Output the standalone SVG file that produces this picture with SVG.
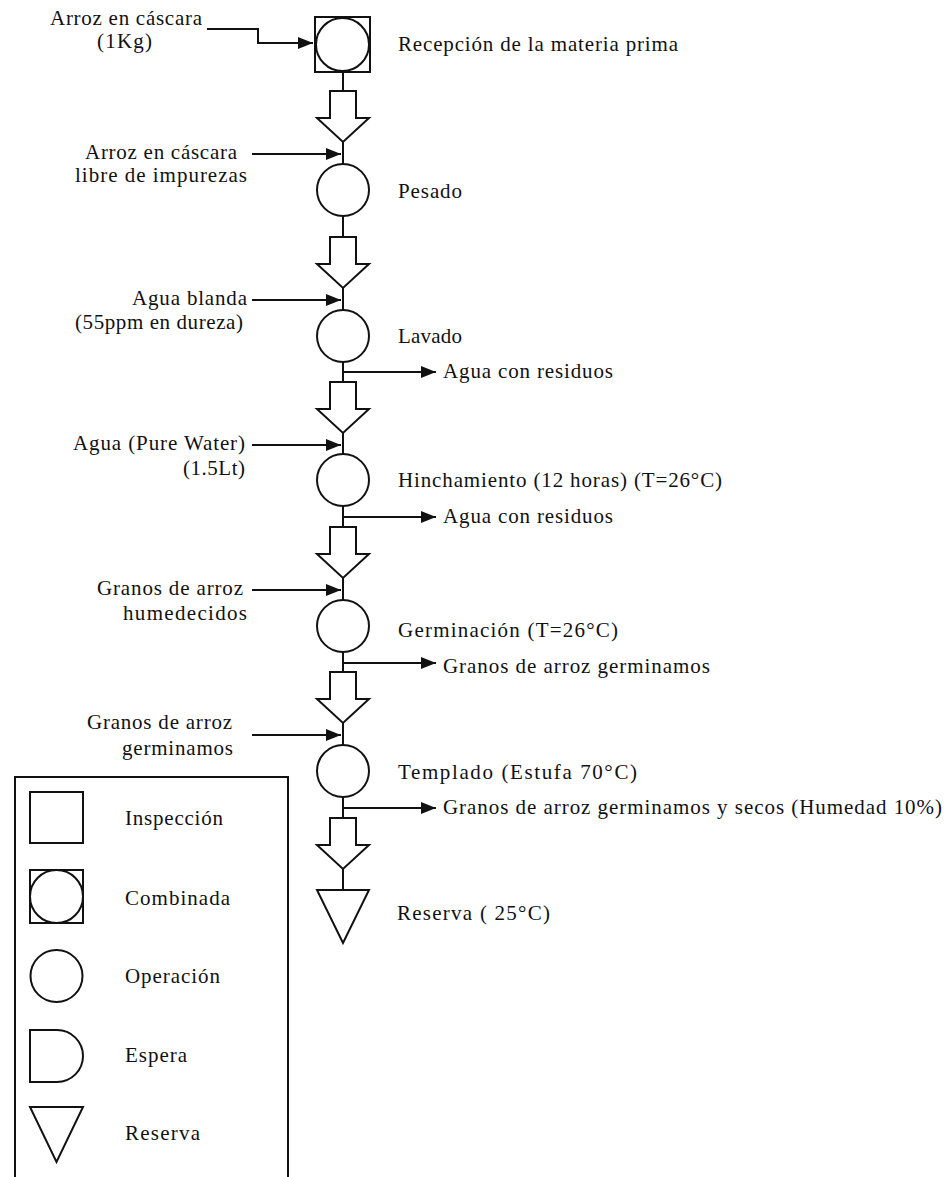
<svg xmlns="http://www.w3.org/2000/svg" width="950" height="1177" viewBox="0 0 950 1177">
<style>
.s{fill:none;stroke:#111;stroke-width:2}
.b{fill:#fff;stroke:#111;stroke-width:2}
.c{fill:none;stroke:#111;stroke-width:2}
text{font-family:"Times New Roman",Times,"Liberation Serif",Tinos,"Nimbus Roman","Noto Serif","DejaVu Serif",serif;font-size:21px;fill:#111}
</style>
<defs>
<marker id="ah" markerUnits="userSpaceOnUse" markerWidth="16" markerHeight="12" refX="15" refY="6" orient="auto">
<path d="M0,0 L15,6 L0,12 Z" fill="#111"/>
</marker>
<polygon id="blk" points="-13,0 13,0 13,27 26,27 0,51 -26,27 -13,27"/>
</defs>
<rect width="950" height="1177" fill="#fff"/>

<g id="connectors">
<polyline class="c" points="207,29 258,29 258,43 313,43" marker-end="url(#ah)"/>
<path class="c" d="M343,72V91 M343,142V164 M343,216V237 M343,288V310 M343,362V382 M343,433V454 M343,506V527 M343,578V600 M343,652V672 M343,723V745 M343,797V818 M343,869V890"/>
<use href="#blk" class="b" x="343" y="91"/>
<use href="#blk" class="b" x="343" y="237"/>
<use href="#blk" class="b" x="343" y="382"/>
<use href="#blk" class="b" x="343" y="527"/>
<use href="#blk" class="b" x="343" y="672"/>
<use href="#blk" class="b" x="343" y="818"/>
<line class="c" x1="252" y1="154" x2="341" y2="154" marker-end="url(#ah)"/>
<line class="c" x1="252" y1="300" x2="341" y2="300" marker-end="url(#ah)"/>
<line class="c" x1="252" y1="445" x2="341" y2="445" marker-end="url(#ah)"/>
<line class="c" x1="252" y1="590" x2="341" y2="590" marker-end="url(#ah)"/>
<line class="c" x1="252" y1="735" x2="341" y2="735" marker-end="url(#ah)"/>
<line class="c" x1="343" y1="372" x2="436" y2="372" marker-end="url(#ah)"/>
<line class="c" x1="343" y1="517" x2="436" y2="517" marker-end="url(#ah)"/>
<line class="c" x1="343" y1="663" x2="436" y2="663" marker-end="url(#ah)"/>
<line class="c" x1="343" y1="808" x2="436" y2="808" marker-end="url(#ah)"/>
</g>

<g id="inputs">
<text x="50" y="25" textLength="152">Arroz en cáscara</text>
<text x="97" y="48" textLength="55">(1Kg)</text>
<text x="85" y="159" textLength="152">Arroz en cáscara</text>
<text x="75" y="182" textLength="172">libre de impurezas</text>
<text x="132" y="305" textLength="115">Agua blanda</text>
<text x="75" y="329" textLength="168">(55ppm en dureza)</text>
<text x="73" y="450" textLength="172">Agua (Pure Water)</text>
<text x="183" y="475" textLength="62">(1.5Lt)</text>
<text x="97" y="595" textLength="146">Granos de arroz</text>
<text x="123" y="620" textLength="124">humedecidos</text>
<text x="87" y="729" textLength="145">Granos de arroz</text>
<text x="122" y="755" textLength="111">germinamos</text>
</g>

<g id="outputs">
<text x="443" y="378" textLength="170">Agua con residuos</text>
<text x="443" y="523" textLength="170">Agua con residuos</text>
<text x="443" y="673" textLength="267">Granos de arroz germinamos</text>
<text x="443" y="814" textLength="499">Granos de arroz germinamos y secos (Humedad 10%)</text>
</g>

<g id="n1-recepcion">
<rect class="s" x="315" y="17" width="55" height="55"/>
<circle class="s" cx="342.5" cy="44.5" r="26.5"/>
<text x="398" y="51" textLength="280">Recepción de la materia prima</text>
</g>
<g id="n2-pesado">
<circle class="s" cx="343" cy="190" r="26"/>
<text x="398" y="198" textLength="64">Pesado</text>
</g>
<g id="n3-lavado">
<circle class="s" cx="343" cy="336" r="26"/>
<text x="398" y="343" textLength="64">Lavado</text>
</g>
<g id="n4-hinchamiento">
<circle class="s" cx="343" cy="480" r="26"/>
<text x="398" y="487" textLength="324">Hinchamiento (12 horas) (T=26°C)</text>
</g>
<g id="n5-germinacion">
<circle class="s" cx="343" cy="626" r="26"/>
<text x="398" y="637" textLength="220">Germinación  (T=26°C)</text>
</g>
<g id="n6-templado">
<circle class="s" cx="343" cy="771" r="26"/>
<text x="398" y="779" textLength="239">Templado  (Estufa  70°C)</text>
</g>
<g id="n7-reserva">
<polygon class="s" points="317,890 369,890 343,943"/>
<text x="397" y="920" textLength="153">Reserva  ( 25°C)</text>
</g>

<g id="legend">
<path class="s" d="M15,1180V777H288V1180"/>
<rect class="s" x="30" y="792" width="53" height="51"/>
<text x="125" y="825" textLength="98">Inspección</text>
<rect class="s" x="30" y="870" width="53" height="53"/>
<circle class="s" cx="56.5" cy="896.5" r="26.5"/>
<text x="125" y="905" textLength="105">Combinada</text>
<circle class="s" cx="56.5" cy="976" r="26"/>
<text x="125" y="983" textLength="95">Operación</text>
<path class="s" d="M30,1030H57A26,26 0 0 1 57,1082H30Z"/>
<text x="125" y="1062" textLength="62">Espera</text>
<polygon class="s" points="30,1107 83,1107 56.5,1162"/>
<text x="125" y="1140" textLength="75">Reserva</text>
</g>
</svg>
